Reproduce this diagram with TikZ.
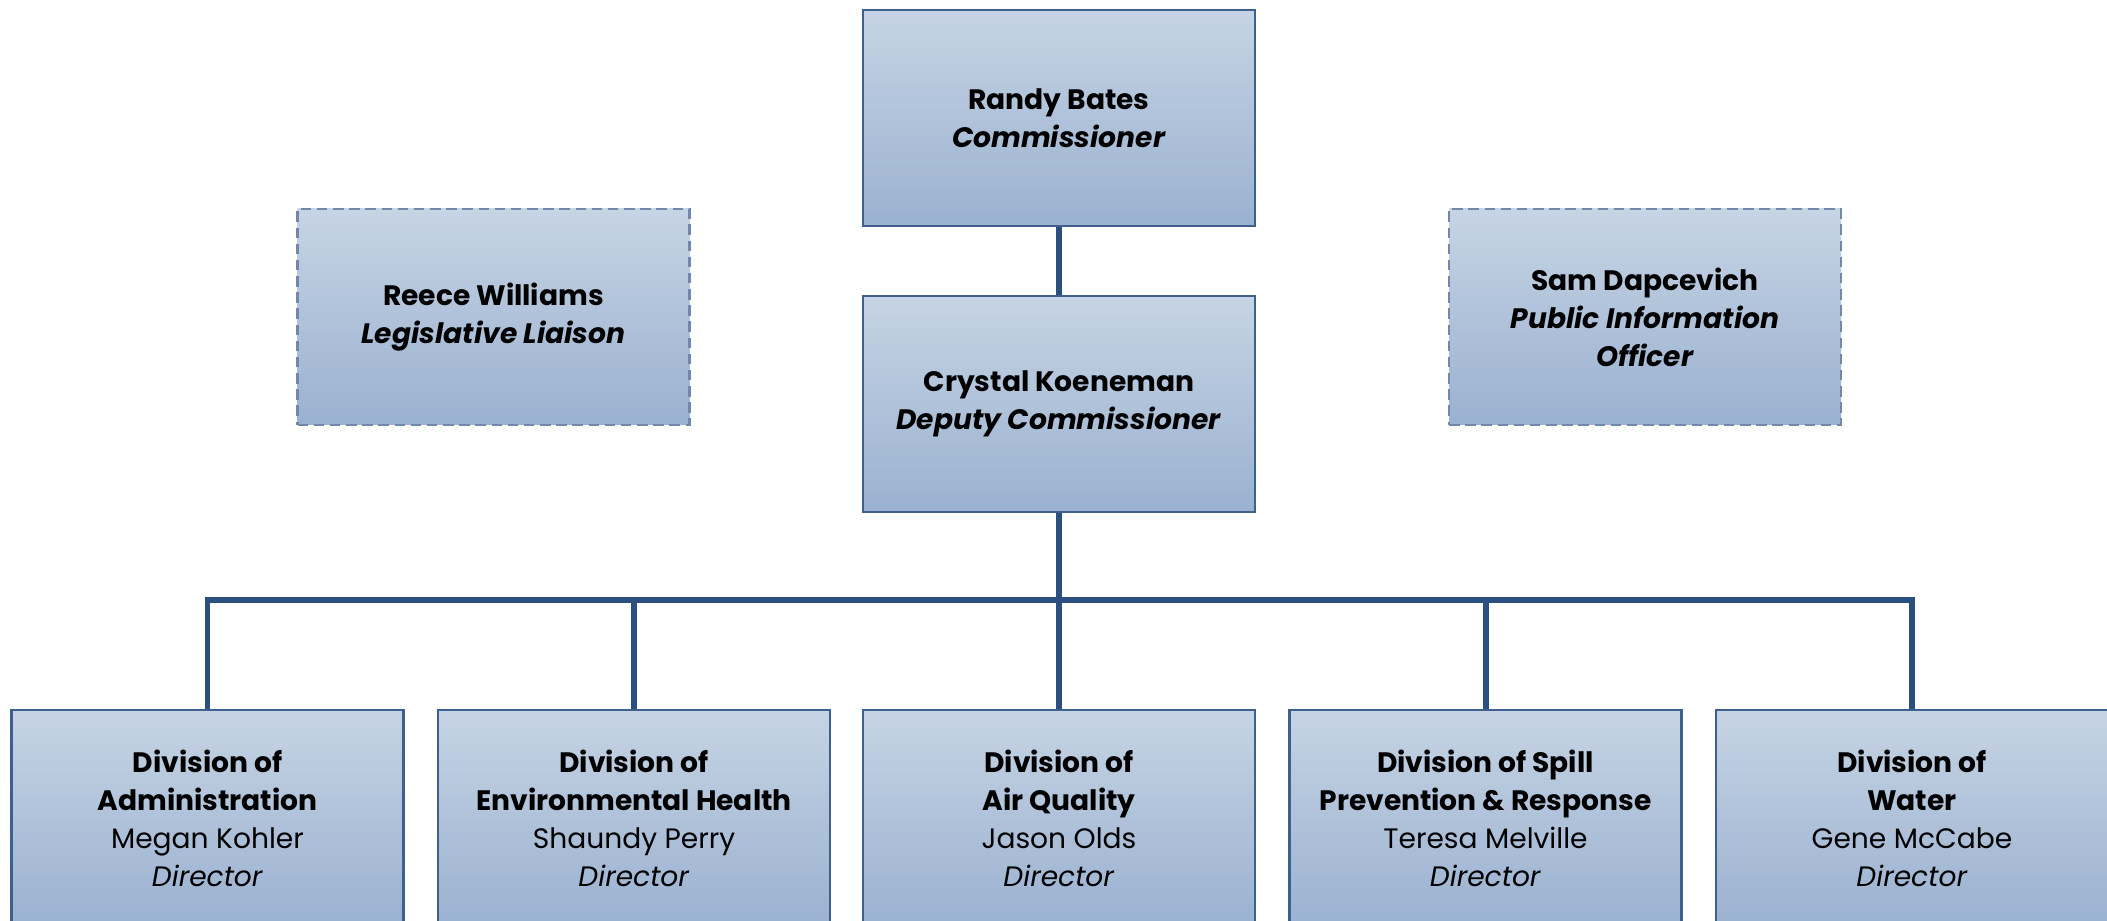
\documentclass[tikz,border=0pt]{standalone}
\usepackage{fontspec}
\setmainfont{Poppins}
\definecolor{boxtop}{HTML}{C6D4E4}
\definecolor{boxbot}{HTML}{9AB1D0}
\definecolor{boxline}{HTML}{3F5F8F}
\definecolor{staffline}{HTML}{7088AA}
\definecolor{linkblue}{HTML}{2B4F80}
\tikzset{
  unit/.style={draw=boxline, line width=0.8pt, top color=boxtop, bottom color=boxbot,
    minimum width=3.92cm, minimum height=2.16cm, align=center, inner sep=2pt,
    font=\fontsize{8}{10.8}\selectfont},
  staff/.style={unit, draw=staffline, dash pattern=on 3pt off 1.6pt},
  link/.style={draw=linkblue, line width=1.7pt},
}
\begin{document}
\begin{tikzpicture}
  \useasboundingbox (0,0) rectangle (21.07,9.21);
  % head office
  \node[unit] (boss) at (10.59,8.03) {\textbf{Randy Bates}\\\textbf{\textit{Commissioner}}};
  \node[unit] (deputy) at (10.59,5.17) {\textbf{Crystal Koeneman}\\\textbf{\textit{Deputy Commissioner}}};
  \node[staff] (liaison) at (4.935,6.04) {\textbf{Reece Williams}\\\textbf{\textit{Legislative Liaison}}};
  \node[staff] (pio) at (16.45,6.04) {\textbf{Sam Dapcevich}\\\textbf{\textit{Public Information}}\\\textbf{\textit{Officer}}};
  % divisions
  \node[unit] (adm) at (2.075,1.03) {\textbf{Division of}\\\textbf{Administration}\\Megan Kohler\\\textit{Director}};
  \node[unit] (env) at (6.34,1.03) {\textbf{Division of}\\\textbf{Environmental Health}\\Shaundy Perry\\\textit{Director}};
  \node[unit] (air) at (10.59,1.03) {\textbf{Division of}\\\textbf{Air Quality}\\Jason Olds\\\textit{Director}};
  \node[unit] (spill) at (14.855,1.03) {\textbf{Division of Spill}\\\textbf{Prevention \& Response}\\Teresa Melville\\\textit{Director}};
  \node[unit] (wat) at (19.12,1.03) {\textbf{Division of}\\\textbf{Water}\\Gene McCabe\\\textit{Director}};
  % lines
  \coordinate (bus) at (10.59,3.21);
  \draw[link] (boss) -- (deputy);
  \draw[link] (deputy) -- (bus);
  \foreach \d in {adm,env,air,spill,wat}
    \draw[link] (bus) -| (\d.north);
\end{tikzpicture}
\end{document}
